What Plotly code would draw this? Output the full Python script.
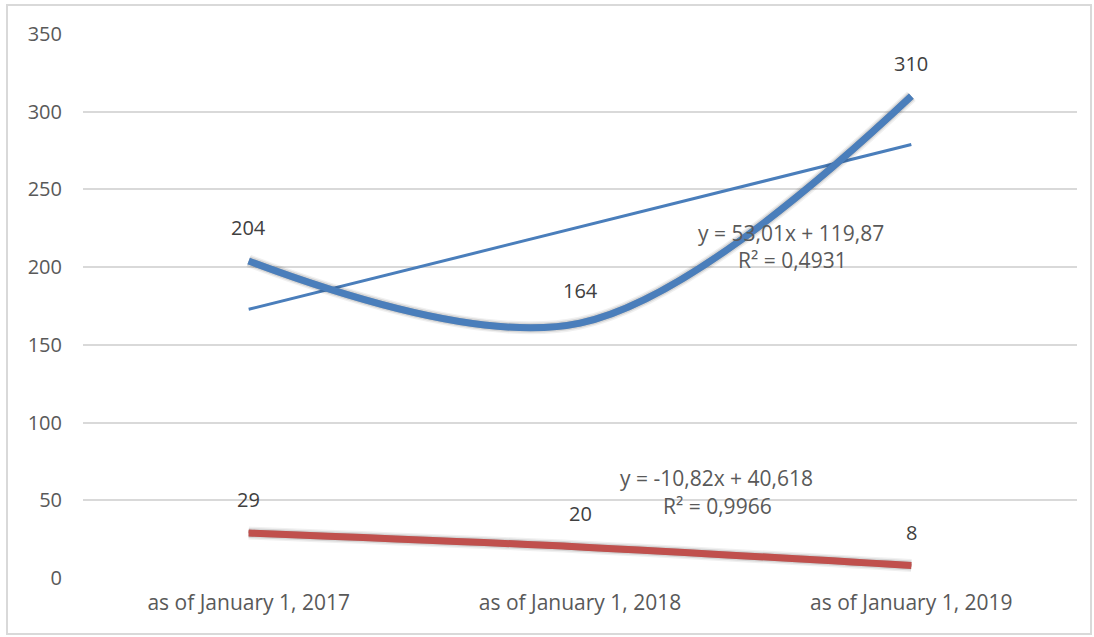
import plotly.graph_objects as go

categories = ["as of January 1, 2017", "as of January 1, 2018", "as of January 1, 2019"]
blue_values = [204, 164, 310]
red_values = [29, 20, 8]
blue_trend = (53.01, 119.87)   # slope, intercept (x = 1..n)
red_trend = (-10.82, 40.618)
blue_eq = ["y = 53,01x + 119,87", "R² = 0,4931"]
red_eq = ["y = -10,82x + 40,618", "R² = 0,9966"]
y_ticks = [0, 50, 100, 150, 200, 250, 300, 350]

BLUE = "#4A7EBB"
RED = "#C0504D"
TXT = "#595959"
LBL = "#404040"
FONT = "Open Sans"
FS = 20

xs = list(range(len(categories)))
blue_tr = [blue_trend[0] * (i + 1) + blue_trend[1] for i in xs]
red_tr = [red_trend[0] * (i + 1) + red_trend[1] for i in xs]

fig = go.Figure()

# trendlines on the base axes
fig.add_trace(go.Scatter(x=xs, y=blue_tr, mode="lines", line=dict(color=BLUE, width=3),
                         showlegend=False, hoverinfo="skip"))
fig.add_trace(go.Scatter(x=xs, y=red_tr, mode="lines", line=dict(color=RED, width=3),
                         showlegend=False, hoverinfo="skip"))

# soft shadows on offset axes
for vals in (blue_values, red_values):
    for w, a in ((13, 0.06), (10, 0.10), (7, 0.18)):
        fig.add_trace(go.Scatter(x=xs, y=vals, mode="lines", xaxis="x2", yaxis="y2",
                                 line=dict(color=f"rgba(0,0,0,{a})", width=w, shape="spline", smoothing=1),
                                 hoverinfo="skip", showlegend=False))

# main series on top
fig.add_trace(go.Scatter(x=xs, y=blue_values, mode="lines", xaxis="x3", yaxis="y3",
                         line=dict(color=BLUE, width=7, shape="spline", smoothing=1),
                         showlegend=False))
fig.add_trace(go.Scatter(x=xs, y=red_values, mode="lines", xaxis="x3", yaxis="y3",
                         line=dict(color=RED, width=7, shape="spline", smoothing=1),
                         showlegend=False))

for vals in (blue_values, red_values):
    for x, v in zip(xs, vals):
        fig.add_annotation(x=x, y=v, xref="x3", yref="y3", text=str(v), showarrow=False,
                           yshift=33, font=dict(family=FONT, size=FS, color=LBL))

EQ = dict(family=FONT, size=FS + 1, color=TXT)
fig.add_annotation(x=1.636, y=222, text=blue_eq[0], showarrow=False, font=EQ)
fig.add_annotation(x=1.642, y=204.6, text=blue_eq[1], showarrow=False, font=EQ)
fig.add_annotation(x=1.412, y=64.3, text=red_eq[0], showarrow=False, font=EQ)
fig.add_annotation(x=1.415, y=46.3, text=red_eq[1], showarrow=False, font=EQ)

W, H = 1094, 637
SX, SY = 3, 5  # shadow offset px
ml, mr, mt, mb = 83, 17 - SX, 34, 59 - SY
pw, ph = W - ml - mr, H - mt - mb
dx, dy = SX / pw, SY / ph

fig.update_layout(
    width=W, height=H,
    margin=dict(l=ml, r=mr, t=mt, b=mb, autoexpand=False),
    paper_bgcolor="white", plot_bgcolor="white",
    font=dict(family=FONT, color=TXT, size=FS),
    xaxis=dict(range=[-0.5, 2.5], tickvals=xs, ticktext=categories, showgrid=False,
               zeroline=False, showline=False, ticks="", tickfont=dict(size=FS + 1, color=TXT),
               domain=[0, 1 - dx], ticklabelstandoff=10),
    yaxis=dict(range=[0, 350], tickvals=y_ticks, showgrid=True, gridcolor="#D9D9D9",
               gridwidth=1.5, zeroline=False, showline=False, ticks="",
               tickfont=dict(size=FS, color=TXT), domain=[dy, 1], ticklabelstandoff=20),
    xaxis2=dict(range=[-0.5, 2.5], domain=[dx, 1], visible=False, overlaying="x"),
    yaxis2=dict(range=[0, 350], domain=[0, 1 - dy], visible=False, overlaying="y"),
    xaxis3=dict(range=[-0.5, 2.5], domain=[0, 1 - dx], visible=False, overlaying="x"),
    yaxis3=dict(range=[0, 350], domain=[dy, 1], visible=False, overlaying="y"),
    shapes=[dict(type="rect", xref="paper", yref="paper",
                 x0=(7 - ml) / pw, x1=(1091 - ml) / pw,
                 y0=(H - mb - 634) / ph, y1=(H - mb - 5) / ph,
                 line=dict(color="#D9D9D9", width=2), layer="below")],
)

fig.write_html("out.html", config={"displayModeBar": False},
               post_script="document.body.style.margin='0';document.body.style.overflow='hidden';")
